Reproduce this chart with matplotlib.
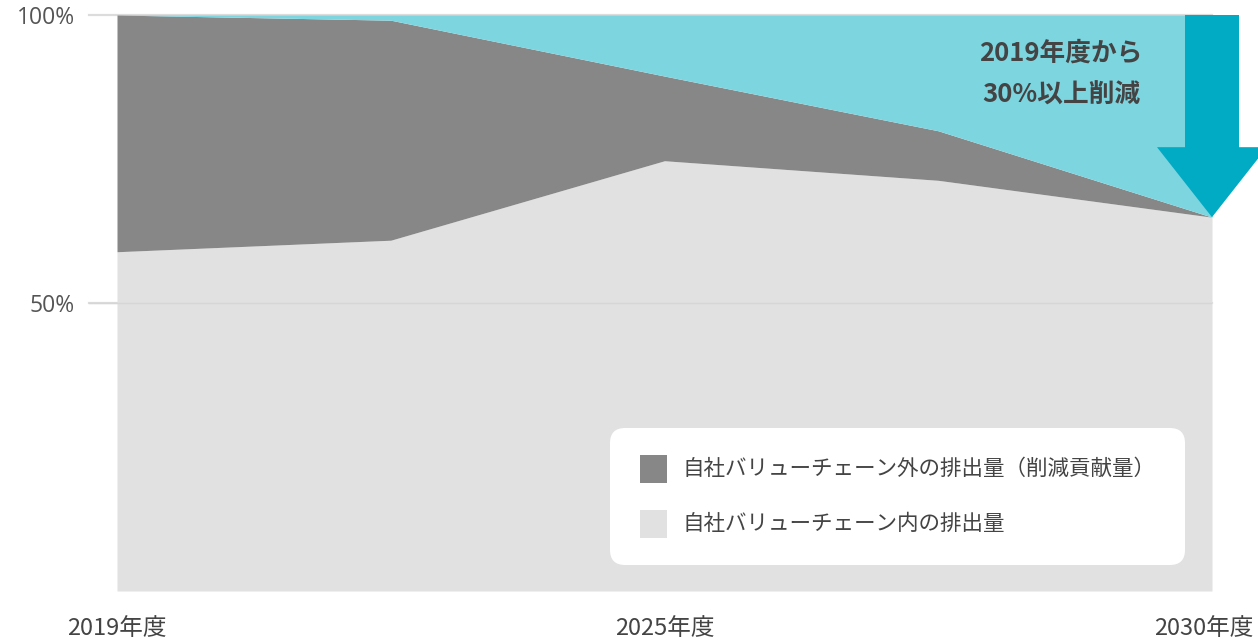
import matplotlib
matplotlib.use("Agg")
import matplotlib.pyplot as plt
from matplotlib.patches import FancyBboxPatch, FancyArrow, Rectangle
from matplotlib.transforms import ScaledTranslation

plt.rcParams['font.family'] = ['Noto Sans CJK JP', 'DejaVu Sans']

# ---- data ----
x_pos = [0, 1, 2, 3, 4]
x_tick_pos = [0, 2, 4]
x_tick_labels = ['2019年度', '2025年度', '2030年度']
inside_chain = [58.9, 60.9, 74.7, 71.3, 64.9]      # 自社バリューチェーン内の排出量 (%)
total_with_outside = [100.0, 99.1, 89.4, 79.9, 64.9]  # 内 + 外 (%)
y_ticks = [50, 100]
y_tick_labels = ['50%', '100%']
legend_labels = ['自社バリューチェーン外の排出量（削減貢献量）', '自社バリューチェーン内の排出量']
annotation = '2019年度から\n30%以上削減'

c_dark = '#878787'
c_light = '#e1e1e1'
c_cyan = '#7dd5e0'
c_arrow = '#00abc3'
c_text = '#444444'

W, H = 1258, 642
fig = plt.figure(figsize=(W / 100, H / 100), dpi=100)
fig.patch.set_facecolor('white')

# axes: x data 0..4 -> px 117..1212 ; left limit extends to px 89
px_per_unit = (1212 - 117) / 4
xmin = -(117 - 89) / px_per_unit
left = 89 / W
right = 1212 / W
bottom = (H - 591) / H
top = (H - 15) / H
ax = fig.add_axes([left, bottom, right - left, top - bottom])
ax.set_xlim(xmin, 4)
ax.set_ylim(0, 100)

# gridlines
for yv in y_ticks:
    ax.axhline(yv, color='#dcdcdc', lw=1.6, zorder=0.5, clip_on=False)

ax.fill_between(x_pos, 0, inside_chain, color=c_light, lw=0, zorder=1)
ax.fill_between(x_pos, inside_chain, total_with_outside, color=c_dark, lw=0, zorder=1)
ax.fill_between(x_pos, total_with_outside, 100, color=c_cyan, lw=0, zorder=1)
ax.axhline(50, color='#d6d6d6', lw=1.0, zorder=1.5)

# arrow from 100% down to 2030 value
end_val = total_with_outside[-1]
shaft_w = 54 / px_per_unit
head_w = 110 / px_per_unit
head_len = (217 - 147) / 5.76
arr = FancyArrow(x_pos[-1], 100, 0, end_val - 100, width=shaft_w, head_width=head_w,
                 head_length=head_len, length_includes_head=True,
                 color=c_arrow, lw=0, zorder=3, clip_on=False)
ax.add_patch(arr)

ax.text((1061 - 117) / px_per_unit, 100 - (74 - 15) / 5.76, annotation,
        ha='center', va='center', fontsize=18.5, fontweight='bold', color=c_text,
        linespacing=1.7, zorder=4)

# ticks
ax.set_xticks(x_tick_pos)
ax.set_xticklabels(x_tick_labels, fontsize=17, color=c_text)
ax.set_yticks(y_ticks)
ax.set_yticklabels(y_tick_labels, fontsize=16.5, color='#555555', family=['Open Sans', 'DejaVu Sans'])
ax.tick_params(axis='x', length=0, pad=19)
ax.tick_params(axis='y', length=0, pad=10)
for s in ax.spines.values():
    s.set_visible(False)
ax.set_facecolor('none')

# keep the last x label inside the canvas
last = ax.get_xticklabels()[-1]
last.set_transform(last.get_transform() + ScaledTranslation(-8 / 100, 0, fig.dpi_scale_trans))

# legend box (figure pixel coords)
def fx(px):
    return px / W

def fy(py):
    return 1 - py / H

box = FancyBboxPatch((fx(610), fy(565)), fx(1185) - fx(610), fy(428) - fy(565),
                     boxstyle='round,pad=0,rounding_size=0.012', transform=fig.transFigure,
                     facecolor='white', edgecolor='none', zorder=5,
                     mutation_aspect=W / H)
fig.patches.append(box)
for i, (lab, col) in enumerate(zip(legend_labels, [c_dark, c_light])):
    cy = 469 + i * 55
    fig.patches.append(Rectangle((fx(640), fy(cy + 14)), fx(667) - fx(640), fy(cy - 14) - fy(cy + 14),
                                 transform=fig.transFigure, facecolor=col, edgecolor='none', zorder=6))
    fig.text(fx(683), fy(cy), lab, ha='left', va='center', fontsize=15.5, color=c_text, zorder=7)

fig.savefig('out.png', dpi=100, facecolor='white')
